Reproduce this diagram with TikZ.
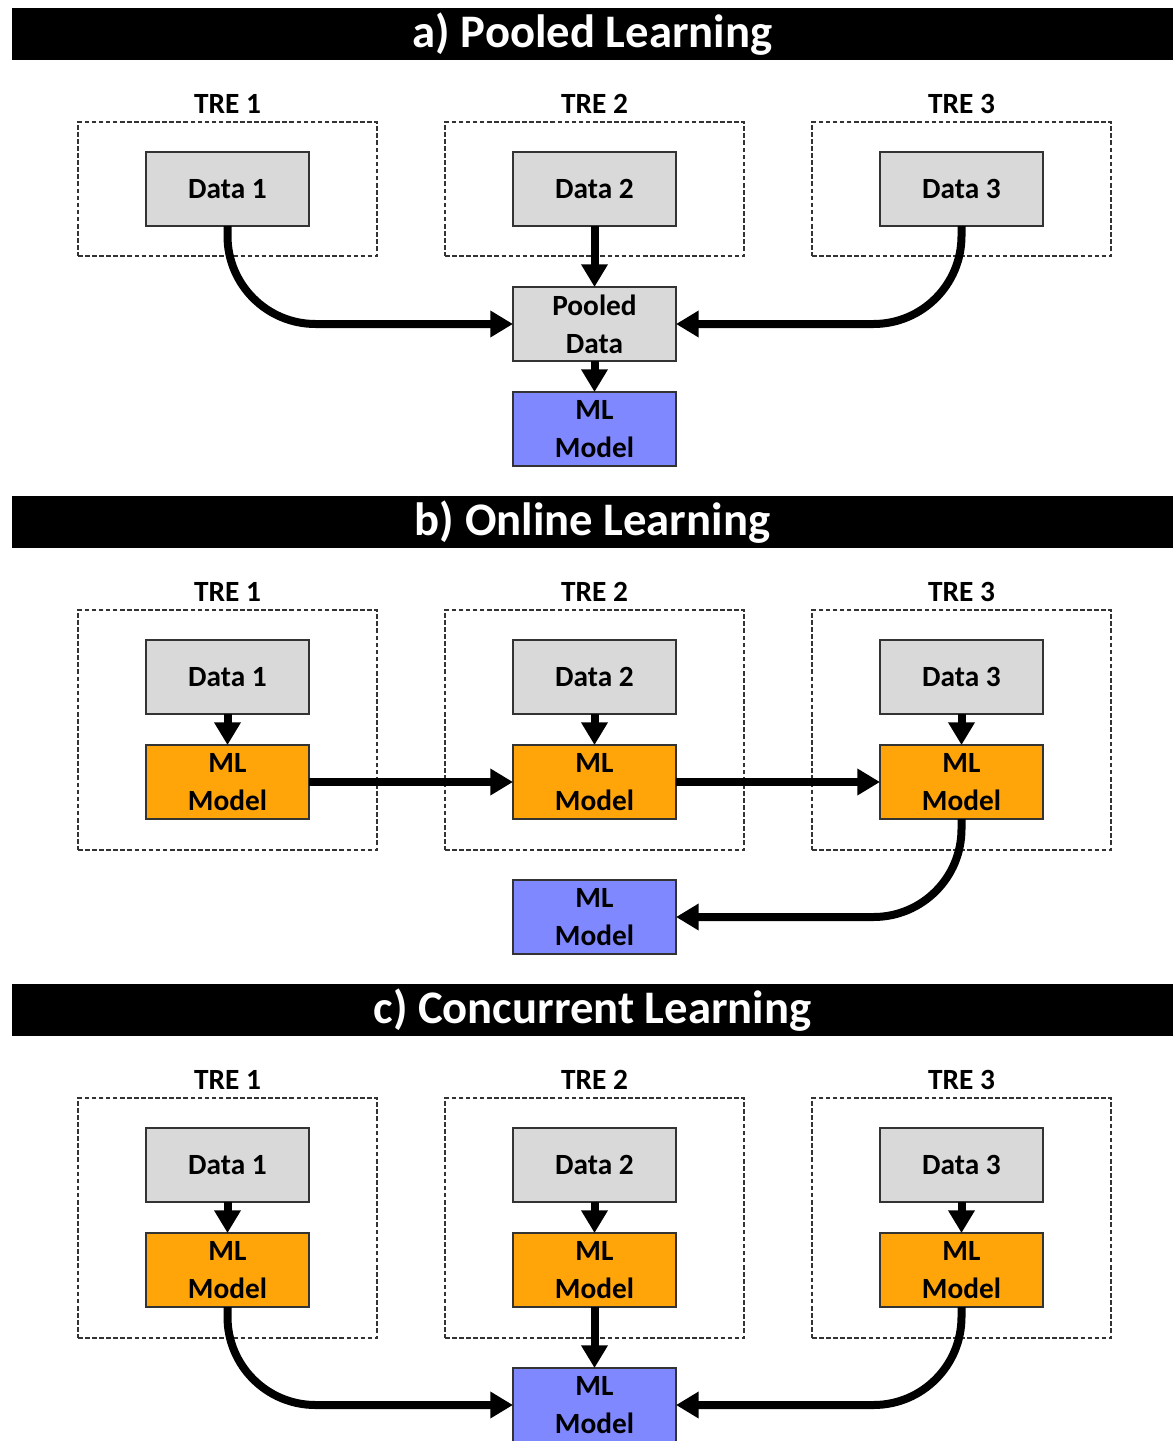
\documentclass[tikz,border=0pt]{standalone}
\usepackage{fontspec}
\setmainfont{Carlito}
\usetikzlibrary{arrows.meta}
\definecolor{boxgray}{HTML}{D9D9D9}
\definecolor{mlorange}{HTML}{FFA50A}
\definecolor{mlblue}{HTML}{8088FF}
\definecolor{edgegray}{HTML}{333333}
\begin{document}
\begin{tikzpicture}[x=0.75pt,y=-0.75pt,
  box/.style={draw=edgegray, line width=1.2pt, minimum width=122.25pt, minimum height=55.5pt,
    inner sep=0pt, outer sep=0pt, font=\fontsize{22}{28.5}\selectfont\bfseries, align=center},
  data/.style={box, fill=boxgray},
  mlo/.style={box, fill=mlorange},
  mlb/.style={box, fill=mlblue},
  trebox/.style={draw=edgegray, line width=0.9pt, dash pattern=on 3.5pt off 1.8pt,
    minimum width=224.25pt, inner sep=0pt, outer sep=0pt},
  treA/.style={trebox, minimum height=100.5pt},
  treB/.style={trebox, minimum height=180pt},
  trelbl/.style={font=\fontsize{22}{26}\selectfont\bfseries, inner sep=0pt},
  titlebar/.style={fill=black, text=white, minimum width=870.75pt, minimum height=39pt,
    inner sep=0pt, outer sep=0pt, font=\fontsize{35}{40}\selectfont\bfseries},
  arr/.style={line width=6pt, -{Triangle[length=17pt,width=19pt]}},
  carr/.style={arr, rounded corners=66pt}
]
\useasboundingbox (0,0) rectangle (1173,1441);
\fill[white] (0,0) rectangle (1173,1441);

% ---------------- a) Pooled Learning ----------------
\node[titlebar] (a-title) at (592.5,34) {a) Pooled Learning};
\foreach \i/\x in {1/227.5,2/594.5,3/961.5}{
  \node[trelbl] (a-tl\i) at (\x,104) {TRE \i};
  \node[treA] (a-tre\i) at (\x,189) {};
  \node[data] (a-d\i) at (\x,189) {Data \i};
}
\node[data] (a-pool) at (594.5,324) {Pooled\\Data};
\node[mlb] (a-ml) at (594.5,429) {ML\\Model};
\draw[carr] (a-d1.south) |- (a-pool.west);
\draw[arr] (a-d2.south) -- (a-pool.north);
\draw[carr] (a-d3.south) |- (a-pool.east);
\draw[arr] (a-pool.south) -- (a-ml.north);

% ---------------- b) Online Learning ----------------
\node[titlebar] (b-title) at (592.5,522) {b) Online Learning};
\foreach \i/\x in {1/227.5,2/594.5,3/961.5}{
  \node[trelbl] (b-tl\i) at (\x,592) {TRE \i};
  \node[treB] (b-tre\i) at (\x,730) {};
  \node[data] (b-d\i) at (\x,677) {Data \i};
  \node[mlo] (b-ml\i) at (\x,782) {ML\\Model};
  \draw[arr] (b-d\i.south) -- (b-ml\i.north);
}
\node[mlb] (b-fin) at (594.5,917) {ML\\Model};
\draw[arr] (b-ml1.east) -- (b-ml2.west);
\draw[arr] (b-ml2.east) -- (b-ml3.west);
\draw[carr] (b-ml3.south) |- (b-fin.east);

% ---------------- c) Concurrent Learning ----------------
\node[titlebar] (c-title) at (592.5,1010) {c) Concurrent Learning};
\foreach \i/\x in {1/227.5,2/594.5,3/961.5}{
  \node[trelbl] (c-tl\i) at (\x,1080) {TRE \i};
  \node[treB] (c-tre\i) at (\x,1218) {};
  \node[data] (c-d\i) at (\x,1165) {Data \i};
  \node[mlo] (c-ml\i) at (\x,1270) {ML\\Model};
  \draw[arr] (c-d\i.south) -- (c-ml\i.north);
}
\node[mlb] (c-fin) at (594.5,1405) {ML\\Model};
\draw[carr] (c-ml1.south) |- (c-fin.west);
\draw[arr] (c-ml2.south) -- (c-fin.north);
\draw[carr] (c-ml3.south) |- (c-fin.east);
\end{tikzpicture}
\end{document}
